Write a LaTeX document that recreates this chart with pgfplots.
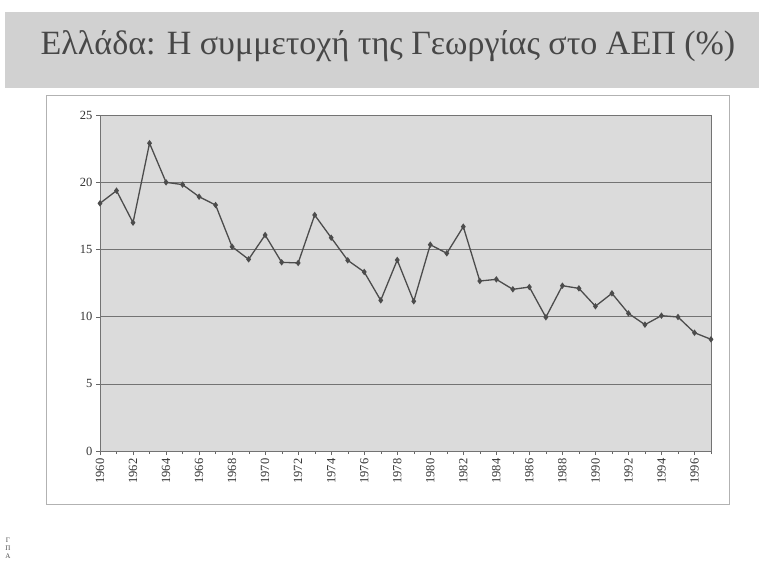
\documentclass[border=0pt]{standalone}
\usepackage{fontspec}
\setmainfont{Liberation Serif}
\usepackage{pgfplots}
\pgfplotsset{compat=1.18}
\begin{document}
\begin{tikzpicture}[x=1pt,y=1pt]
\fill[white] (0,0) rectangle (759,558);
\fill[black!18] (5,470) rectangle (759,546);
\node[text=black!72, font=\fontsize{34}{37}\selectfont] at (388,512) {Ελλάδα: Η συμμετοχή της Γεωργίας στο ΑΕΠ (\%)};
\draw[black!30, line width=0.8pt] (46,54) rectangle (729,463);
\node[font=\fontsize{7}{8}\selectfont, align=center, text=black!70] at (8,10) {Γ\\Π\\Α};
\begin{axis}[
  at={(100pt,107pt)}, anchor=south west,
  scale only axis, width=611pt, height=336pt,
  xmin=1960, xmax=1997, ymin=0, ymax=25,
  ytick={0,5,...,25},
  xtick={1960,1962,...,1996},
  minor xtick={1960,...,1997},
  xtick pos=bottom, ytick pos=left,
  tick align=outside,
  major tick length=4pt, minor tick length=3pt,
  tick style={black!60},
  x tick label style={rotate=90, anchor=east},
  tick label style={font=\fontsize{12.5}{13}\selectfont, text=black!80},
  /pgf/number format/assume math mode=true,
  /pgf/number format/set thousands separator={},
  axis background/.style={fill=black!14},
  axis line style={black!55},
  ymajorgrids, grid style={black!55, line width=0.6pt},
]
\addplot[color=black!70, line width=1.3pt, mark=diamond*, mark size=2.2pt] coordinates {
(1960,18.43) (1961,19.37) (1962,16.99) (1963,22.9) (1964,19.99) (1965,19.82)
(1966,18.92) (1967,18.30) (1968,15.2) (1969,14.26) (1970,16.07) (1971,14.04)
(1972,13.99) (1973,17.56) (1974,15.87) (1975,14.19) (1976,13.32) (1977,11.21)
(1978,14.21) (1979,11.14) (1980,15.35) (1981,14.71) (1982,16.69) (1983,12.65)
(1984,12.77) (1985,12.03) (1986,12.2) (1987,9.95) (1988,12.3) (1989,12.1)
(1990,10.77) (1991,11.73) (1992,10.24) (1993,9.4) (1994,10.07) (1995,9.97)
(1996,8.8) (1997,8.31)
};
\end{axis}
\end{tikzpicture}
\end{document}
